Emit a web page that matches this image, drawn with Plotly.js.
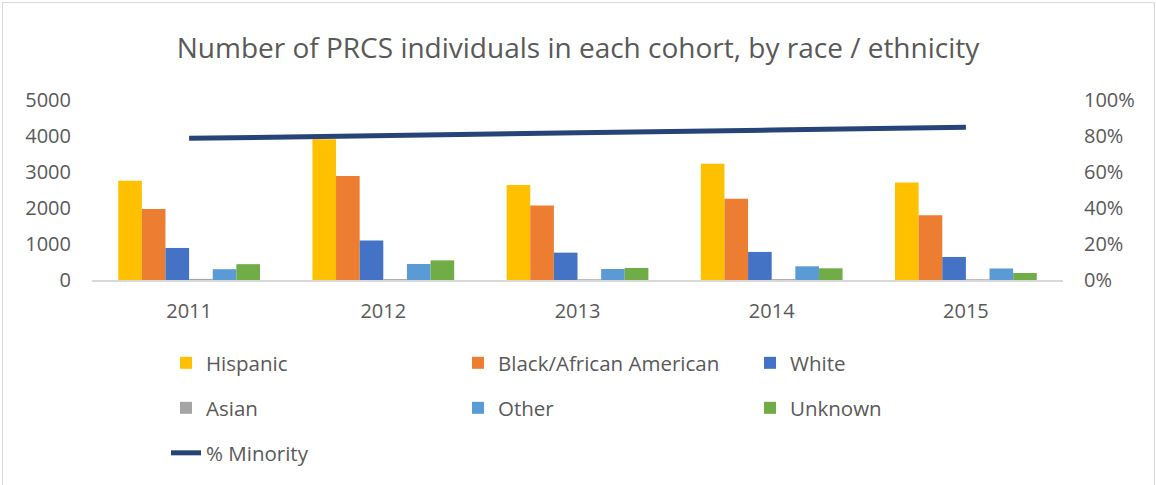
<!DOCTYPE html>
<html>
<head>
<meta charset="utf-8">
<script src="https://cdn.plot.ly/plotly-3.0.1.min.js"></script>
<style>
html,body{margin:0;padding:0;background:#fff;}
#chart{width:1156px;height:485px;}
#frame{position:absolute;left:2px;top:2px;width:1151px;height:500px;border:1px solid #d9d9d9;pointer-events:none;}
</style>
</head>
<body>
<div id="chart"></div>
<div id="frame"></div>
<script>
const years = ["2011", "2012", "2013", "2014", "2015"];
const hispanic = [2760, 3910, 2640, 3230, 2710];
const black = [1970, 2890, 2070, 2260, 1800];
const white = [890, 1100, 760, 780, 640];
const asian = [30, 25, 20, 25, 20];
const other = [300, 445, 305, 380, 320];
const unknown = [440, 545, 335, 325, 195];
const pctMinority = [0.787, 0.805, 0.818, 0.833, 0.848];

const seriesNames = ["Hispanic", "Black/African American", "White", "Asian", "Other", "Unknown"];
const seriesVals = [hispanic, black, white, asian, other, unknown];
const seriesColors = ["#FFC000", "#ED7D31", "#4472C4", "#A5A5A5", "#5B9BD5", "#70AD47"];

const FONT = "Open Sans, Liberation Sans, sans-serif";
const TXT = "#595959";

const legendKeys = ["legend", "legend2", "legend3", "legend4", "legend5", "legend6", "legend7"];
const traces = seriesNames.map((n, i) => ({
  type: "bar", name: n, x: years, y: seriesVals[i],
  marker: {color: seriesColors[i]}, legend: legendKeys[i], yaxis: "y"
}));
traces.push({
  type: "scatter", mode: "lines", name: "% Minority", x: years, y: pctMinority,
  yaxis: "y2", legend: "legend7",
  line: {color: "#264478", width: 5}
});

// legend grid: 3 columns, 3 rows (pixel positions converted to paper coords)
const plotL = 92, plotW = 971, plotB = 280, plotH = 180;
const colTextX = [207, 499, 791];
const rowY = [363, 408, 453];
const legBase = {orientation: "h", xanchor: "left", yanchor: "middle",
  font: {family: FONT, size: 20.5, color: TXT}, bgcolor: "rgba(0,0,0,0)"};

const layout = {
  width: 1156, height: 485,
  margin: {l: 92, r: 93, t: 100, b: 205},
  paper_bgcolor: "#fff", plot_bgcolor: "#fff",
  font: {family: FONT, color: TXT},
  title: {text: "Number of PRCS individuals in each cohort, by race / ethnicity",
    font: {family: FONT, size: 28, color: TXT}, x: 0.5, xanchor: "center",
    y: 1 - 48/485, yanchor: "middle", yref: "container"},
  barmode: "group", bargap: 0.27, bargroupgap: 0,
  xaxis: {type: "category", showline: true, linecolor: "#d9d9d9", linewidth: 2,
    showgrid: false, ticks: "", tickfont: {family: FONT, size: 20, color: TXT},
    ticklabelstandoff: 12},
  yaxis: {range: [0, 5000], dtick: 1000, showgrid: false, zeroline: false,
    showline: false, ticks: "", tickfont: {family: FONT, size: 20, color: TXT},
    ticklabelstandoff: 20},
  yaxis2: {range: [0, 1], dtick: 0.2, tickformat: ".0%", overlaying: "y", side: "right",
    showgrid: false, zeroline: false, showline: false, ticks: "",
    tickfont: {family: FONT, size: 20, color: TXT}, ticklabelstandoff: 20},
  showlegend: true
};
for (let k = 0; k < 7; k++) {
  const col = k % 3, row = Math.floor(k / 3);
  layout[legendKeys[k]] = Object.assign({}, legBase, {
    x: (colTextX[col] - 41 - plotL) / plotW,
    y: (plotB - rowY[row]) / plotH
  });
}

Plotly.newPlot("chart", traces, layout, {displayModeBar: false, staticPlot: true});
</script>
</body>
</html>
